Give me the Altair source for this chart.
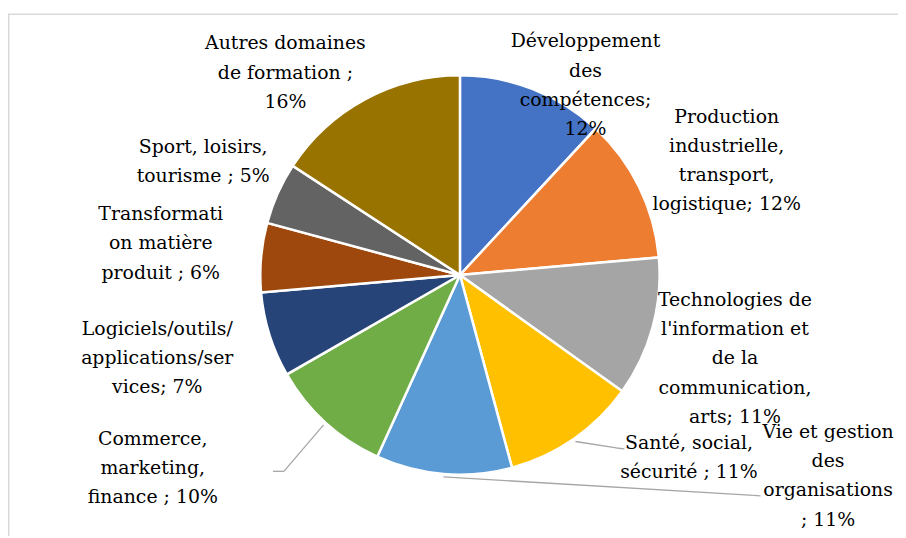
import altair as alt
import pandas as pd

# ---- data ----
categories = [
    "Développement des compétences",
    "Production industrielle, transport, logistique",
    "Technologies de l'information et de la communication, arts",
    "Santé, social, sécurité",
    "Vie et gestion des organisations",
    "Commerce, marketing, finance",
    "Logiciels/outils/applications/services",
    "Transformation matière produit",
    "Sport, loisirs, tourisme",
    "Autres domaines de formation",
]
values = [11.9, 11.7, 11.3, 10.9, 11.0, 9.9, 6.9, 5.6, 5.0, 15.8]
label_texts = [
    "Développement\ndes\ncompétences;\n12%",
    "Production\nindustrielle,\ntransport,\nlogistique; 12%",
    "Technologies de\nl'information et\nde la\ncommunication,\narts; 11%",
    "Santé, social,\nsécurité ; 11%",
    "Vie et gestion\ndes\norganisations\n; 11%",
    "Commerce,\nmarketing,\nfinance ; 10%",
    "Logiciels/outils/\napplications/ser\nvices; 7%",
    "Transformati\non matière\nproduit ; 6%",
    "Sport, loisirs,\ntourisme ; 5%",
    "Autres domaines\nde formation ;\n16%",
]
colors = ["#4472C4", "#ED7D31", "#A5A5A5", "#FFC000", "#5B9BD5",
          "#70AD47", "#264478", "#9E480E", "#636363", "#997300"]

# ---- label layout (offsets from the slice's outer edge point at mid-angle) ----
label_dx = [53, 88, 83, 116, 387, -174, -113, -101, -75, -80]
label_dy = [-4, -27, 31, 19, 2, 46, 23, -14, -32, -27]
# leader lines: elbow / end offsets relative to the label centre
has_leader = [False, False, False, True, True, True, False, False, False, False]
elbow_dx = [0, 0, 0, -73, -75, 132, 0, 0, 0, 0]
elbow_dy = [0, 0, 0, -10, 19.5, 3, 0, 0, 0, 0]
end_dx = [0, 0, 0, -65, -68, 121, 0, 0, 0, 0]
end_dy = [0, 0, 0, -9, 20, 3, 0, 0, 0, 0]

CX, CY, R = 455, 267, 201
W, H = 896, 528
LH = 29.3
FONT = "DejaVu Serif"

df = pd.DataFrame({
    "idx": list(range(len(categories))),
    "category": categories,
    "value": values,
    "label": label_texts,
    "ldx": label_dx, "ldy": label_dy,
    "lead": has_leader,
    "edx": elbow_dx, "edy": elbow_dy,
    "tdx": end_dx, "tdy": end_dy,
})

base = alt.Chart(df)

pie = base.mark_arc(outerRadius=R, stroke="white", strokeWidth=2.5).encode(
    theta=alt.Theta("value:Q", stack=True),
    order=alt.Order("idx:Q"),
    color=alt.Color("category:N", sort=categories,
                    scale=alt.Scale(domain=categories, range=colors), legend=None),
    x=alt.value(CX), y=alt.value(CY),
)

pos = base.transform_window(
    cum="sum(value)", sort=[alt.SortField("idx")], frame=[None, 0]
).transform_joinaggregate(
    total="sum(value)"
).transform_calculate(
    mid="(datum.cum - datum.value/2) / datum.total * 2 * PI",
    nl="split(datum.label, '\\n').length",
    ex=f"{CX} + {R}*sin(datum.mid)",
    ey=f"{CY} - {R}*cos(datum.mid)",
    sx=f"{CX} + {R+3}*sin(datum.mid)",
    sy=f"{CY} - {R+3}*cos(datum.mid)",
    lx="datum.ex + datum.ldx",
    ly="datum.ey + datum.ldy",
    ty0=f"datum.ly - (datum.nl - 1) * {LH} / 2",
    bx="datum.lx + datum.edx",
    by="datum.ly + datum.edy",
    tx="datum.lx + datum.tdx",
    ty="datum.ly + datum.tdy",
)

leaders = pos.transform_filter("datum.lead")
seg1 = leaders.mark_rule(color="#A6A6A6", strokeWidth=1.3).encode(
    x=alt.X("sx:Q", scale=None), y=alt.Y("sy:Q", scale=None),
    x2="bx:Q", y2="by:Q",
)
seg2 = leaders.mark_rule(color="#A6A6A6", strokeWidth=1.3).encode(
    x=alt.X("bx:Q", scale=None), y=alt.Y("by:Q", scale=None),
    x2="tx:Q", y2="ty:Q",
)

labels = pos.mark_text(
    align="center", baseline="middle", font=FONT,
    fontSize=19, lineHeight=LH, lineBreak="\n", color="#000000",
).encode(
    x=alt.X("lx:Q", scale=None), y=alt.Y("ty0:Q", scale=None),
    text="label:N",
)

frame = alt.Chart(pd.DataFrame({"f": [0]})).mark_rect(
    fill=None, stroke="#D9D9D9", strokeWidth=1.5
).encode(
    x=alt.value(0.75), x2=alt.value(W + 20),
    y=alt.value(4.5), y2=alt.value(H + 20),
)

chart = alt.layer(frame, pie, seg1, seg2, labels).properties(
    width=W, height=H, padding=0, autosize="none"
).configure_view(stroke=None)

chart.save("out.html", embed_options={"renderer": "svg", "actions": False})
